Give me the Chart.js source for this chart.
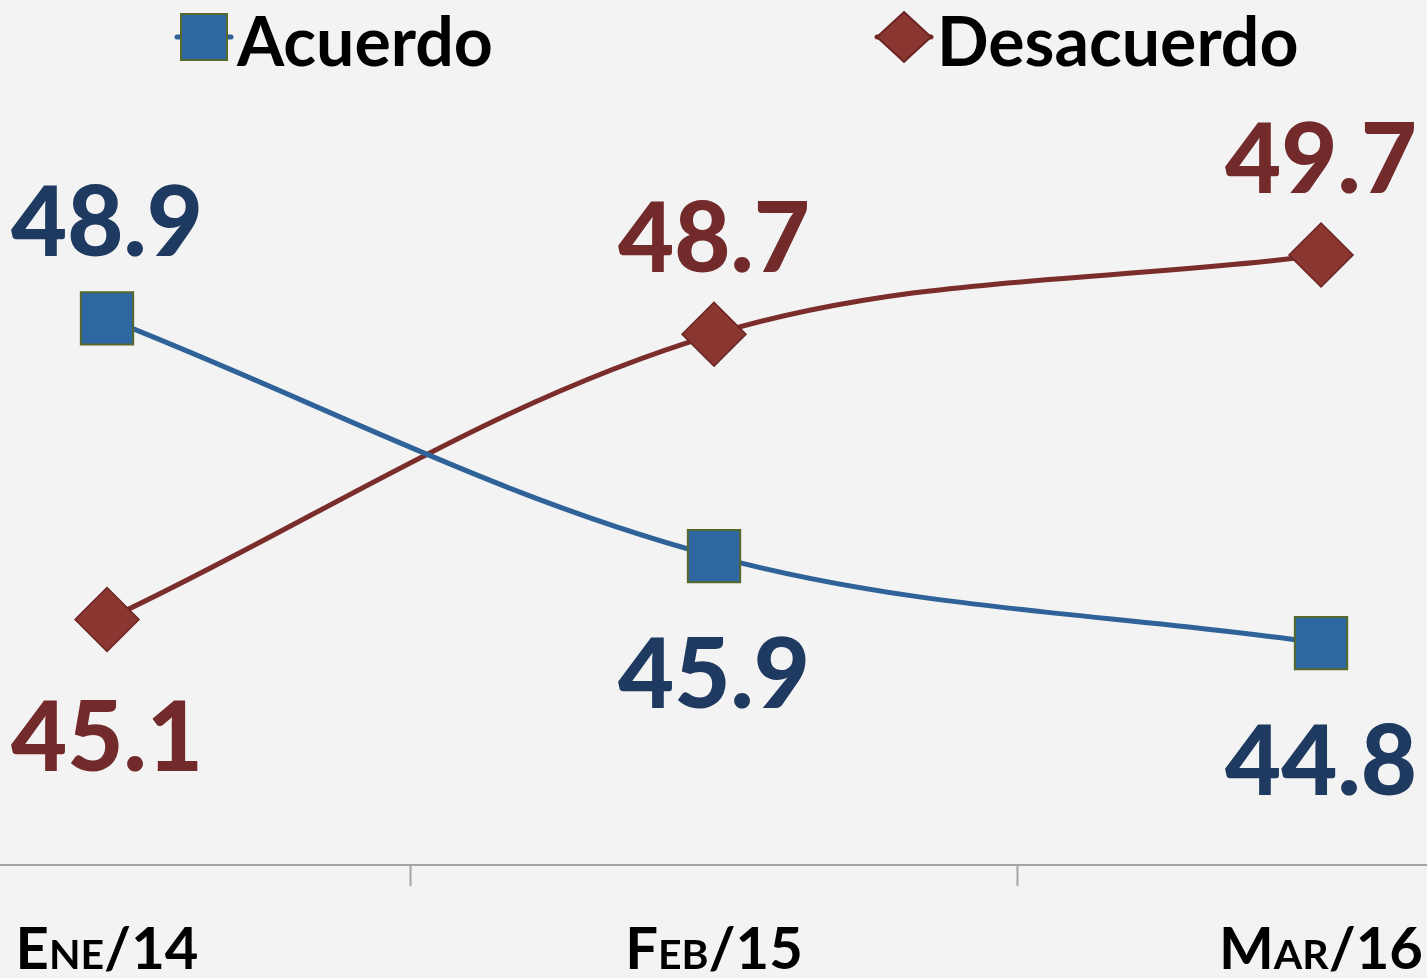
<!DOCTYPE html>
<html>
<head>
<meta charset="utf-8">
<script src="https://cdn.jsdelivr.net/npm/chart.js@4.4.1/dist/chart.umd.min.js"></script>
<style>
  html, body { margin: 0; padding: 0; background: #f3f3f3; overflow: hidden; }
  #wrap { width: 1427px; height: 978px; position: relative; }
</style>
</head>
<body>
<div id="wrap"><canvas id="chart"></canvas></div>
<script>
const categories = ['Ene/14', 'Feb/15', 'Mar/16']
const acuerdo = [48.9, 45.9, 44.8]
const desacuerdo = [45.1, 48.7, 49.7]
const seriesNames = ['Acuerdo', 'Desacuerdo']

const colors = {
    acuerdoLine: '#2e6298',
    acuerdoPoint: '#2f67a3',
    acuerdoBorder: '#56692c',
    acuerdoLabel: '#1f3a60',
    desLine: '#7a2d2b',
    desPoint: '#8a3732',
    desBorder: '#6a2422',
    desLabel: '#722a2a'
}
const FONT = 'Lato, "Open Sans", sans-serif'

// value labels above/below each point, side chosen by comparing the two series
const valueLabels = {
    id: 'valueLabels',
    afterDatasetsDraw(chart) {
        const ctx = chart.ctx
        const all = chart.data.datasets.map(d => d.data.map(p => p.y))
        ctx.save()
        ctx.font = '900 97px ' + FONT
        ctx.textAlign = 'center'
        ctx.textBaseline = 'alphabetic'
        chart.data.datasets.forEach((ds, di) => {
            const meta = chart.getDatasetMeta(di)
            meta.data.forEach((pt, i) => {
                const v = all[di][i]
                const other = all[1 - di][i]
                const above = v > other
                ctx.fillStyle = ds.labelColor
                const y = above ? pt.y - 97 + 35 : pt.y + 117 + 35
                ctx.fillText(v.toFixed(1), pt.x, y)
            })
        })
        ctx.restore()
    }
}

// legend with line + marker like the original
const lineLegend = {
    id: 'lineLegend',
    afterDraw(chart) {
        const ctx = chart.ctx
        const items = [
            {x: 175, ds: chart.data.datasets[0], shape: 'rect', textX: 237},
            {x: 875, ds: chart.data.datasets[1], shape: 'diamond', textX: 937}
        ]
        ctx.save()
        items.forEach(it => {
            const cy = 37
            ctx.strokeStyle = it.ds.borderColor
            ctx.lineWidth = 5
            ctx.lineCap = 'round'
            ctx.beginPath()
            ctx.moveTo(it.x + 2, cy)
            ctx.lineTo(it.x + 56, cy)
            ctx.stroke()
            ctx.fillStyle = it.ds.pointBackgroundColor
            ctx.strokeStyle = it.ds.pointBorderColor
            ctx.lineWidth = 2
            ctx.beginPath()
            const cx = it.x + 29
            if (it.shape === 'rect') {
                ctx.rect(cx - 23, cy - 23, 46, 46)
            } else {
                ctx.moveTo(cx, cy - 25)
                ctx.lineTo(cx + 27, cy)
                ctx.lineTo(cx, cy + 25)
                ctx.lineTo(cx - 27, cy)
                ctx.closePath()
            }
            ctx.fill()
            ctx.stroke()
            ctx.fillStyle = '#000'
            ctx.font = 'bold 68px ' + FONT
            ctx.textBaseline = 'alphabetic'
            ctx.fillText(it.ds.label, it.textX, 66)
        })
        ctx.restore()
    }
}

new Chart(document.getElementById('chart'), {
    type: 'line',
    data: {
        datasets: [
            {
                label: seriesNames[0],
                data: acuerdo.map((v, i) => ({x: i, y: v})),
                borderColor: colors.acuerdoLine,
                borderWidth: 5,
                tension: 0.35,
                pointStyle: 'rect',
                pointRadius: 37,
                pointBackgroundColor: colors.acuerdoPoint,
                pointBorderColor: colors.acuerdoBorder,
                pointBorderWidth: 2,
                labelColor: colors.acuerdoLabel
            },
            {
                label: seriesNames[1],
                data: desacuerdo.map((v, i) => ({x: i, y: v})),
                borderColor: colors.desLine,
                borderWidth: 5,
                tension: 0.35,
                pointStyle: 'rectRot',
                pointRadius: 32,
                pointBackgroundColor: colors.desPoint,
                pointBorderColor: colors.desBorder,
                pointBorderWidth: 1.5,
                labelColor: colors.desLabel
            }
        ]
    },
    options: {
        responsive: true,
        maintainAspectRatio: false,
        animation: false,
        layout: {padding: 0, autoPadding: false},
        plugins: {
            legend: {display: false},
            tooltip: {enabled: false}
        },
        scales: {
            x: {
                type: 'linear',
                min: -0.1763,
                max: 2.1746,
                afterBuildTicks: (scale) => {
                    scale.ticks = [0, 0.5, 1, 1.5, 2].map(v => ({value: v}))
                },
                afterFit: (scale) => {
                    scale.height = 113
                    scale.paddingLeft = 0
                    scale.paddingRight = 0
                },
                border: {display: true, color: '#a3a3a3', width: 2},
                grid: {
                    drawOnChartArea: false,
                    drawTicks: true,
                    tickLength: 21,
                    tickWidth: 2,
                    color: (c) => (c.tick && c.tick.value % 1 !== 0) ? '#a3a3a3' : 'rgba(0,0,0,0)'
                },
                ticks: {
                    autoSkip: false,
                    maxRotation: 0,
                    padding: 29,
                    color: '#000',
                    font: {family: FONT, size: 58, weight: 'small-caps bold'},
                    callback: (v) => Number.isInteger(v) ? categories[v] : ''
                }
            },
            y: {
                display: false,
                min: 42,
                max: 52.92
            }
        }
    },
    plugins: [valueLabels, lineLegend]
})
</script>
</body>
</html>
